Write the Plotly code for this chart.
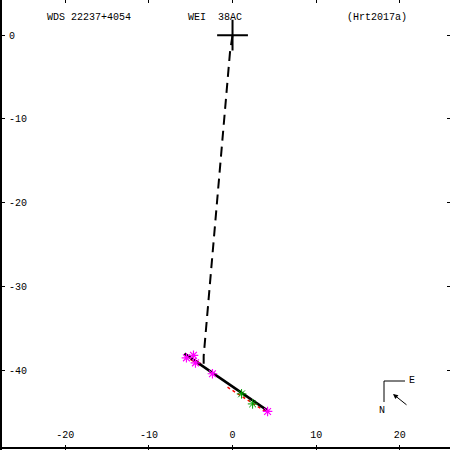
import plotly.graph_objects as go

# Data
orbit_x = [-5.75, 4.19]
orbit_y = [-38.0, -44.8]

dash_x = [0.0, -0.3, -3.45, -3.45]
dash_y = [0.0, -2.0, -38.3, -39.6]

meas_x = [-4.67, -5.51, -4.43, -2.40, 4.19]
meas_y = [-38.2, -38.5, -39.1, -40.4, -44.9]

red_x = [-5.0, -3.8]
red_y = [-38.6, -39.3]
reddot_x = [-0.6, 4.0]
reddot_y = [-42.0, -44.95]

green_x = [1.08, 2.40]
green_y = [-42.8, -44.0]

primary_x = [0.0]
primary_y = [0.0]

x_ticks = [-20, -10, 0, 10, 20]
x_ticktext = ["-20", "-10", "0", "10", "20"]
y_ticks = [0, -10, -20, -30, -40]
y_ticktext = ["0", "-10", "-20", "-30", "-40"]

title_left = "WDS 22237+4054"
title_mid = "WEI  38AC"
title_right = "(Hrt2017a)"

FONT = dict(family="Liberation Mono, DejaVu Sans Mono, monospace", size=10, color="black")
XR = [-27.8, 26.0]
YR = [-49.5, 4.2]

fig = go.Figure()
fig.add_trace(go.Scatter(x=dash_x, y=dash_y, mode="lines",
                         line=dict(color="black", width=2, dash="10px,6px")))
fig.add_trace(go.Scatter(x=reddot_x, y=reddot_y, mode="lines",
                         line=dict(color="red", width=1.5, dash="dot")))
fig.add_trace(go.Scatter(x=red_x, y=red_y, mode="lines",
                         line=dict(color="red", width=3)))
fig.add_trace(go.Scatter(x=orbit_x, y=orbit_y, mode="lines",
                         line=dict(color="black", width=2.5)))
fig.add_trace(go.Scatter(x=green_x, y=green_y, mode="markers",
                         marker=dict(symbol="asterisk-open", size=8, color="#00a000",
                                     line=dict(color="#00a000", width=1))))
fig.add_trace(go.Scatter(x=meas_x, y=meas_y, mode="markers",
                         marker=dict(symbol="asterisk-open", size=8, color="magenta",
                                     line=dict(color="magenta", width=1.2))))
fig.add_trace(go.Scatter(x=primary_x, y=primary_y, mode="markers",
                         marker=dict(symbol="cross-thin-open", size=22, color="black",
                                     line=dict(color="black", width=2))))
# invisible trace for mirrored axes
fig.add_trace(go.Scatter(x=[0], y=[0], xaxis="x2", yaxis="y2", mode="markers",
                         marker=dict(opacity=0), hoverinfo="skip"))

axis_common = dict(ticks="inside", tickcolor="black", tickwidth=1,
                   showgrid=False, zeroline=False, tickfont=FONT, automargin=False)
fig.update_layout(
    template="none",
    width=450, height=450,
    margin=dict(l=0, r=0, t=0, b=0, autoexpand=False),
    paper_bgcolor="white", plot_bgcolor="white",
    showlegend=False,
    xaxis=dict(range=XR, tickvals=x_ticks, ticktext=x_ticktext, ticklen=5, showline=False,
               ticklabelposition="inside", ticklabelstandoff=4, **axis_common),
    yaxis=dict(range=YR, tickvals=y_ticks, ticktext=y_ticktext, ticklen=5, showline=False,
               ticklabelposition="inside", ticklabelstandoff=3, **axis_common),
    xaxis2=dict(range=XR, tickvals=x_ticks, ticklen=3, overlaying="x", side="top",
                showline=False, showticklabels=False, **axis_common),
    yaxis2=dict(range=YR, tickvals=y_ticks, ticklen=3, overlaying="y", side="right",
                showline=False, showticklabels=False, **axis_common),
)

# frame lines (left and bottom)
fig.add_shape(type="line", xref="paper", yref="paper", x0=1 / 450, x1=1 / 450, y0=0, y1=1,
              line=dict(color="black", width=2))
fig.add_shape(type="line", xref="paper", yref="paper", x0=0, x1=1, y0=2 / 450, y1=2 / 450,
              line=dict(color="black", width=2))

for txt, px in [(title_left, 45), (title_mid, 186), (title_right, 345)]:
    fig.add_annotation(text=txt, xref="paper", yref="paper", x=px / 450, y=1 - 17 / 450,
                       xanchor="left", yanchor="middle", showarrow=False, font=FONT)

# compass
def P(px, py):
    return px / 450, 1 - py / 450

x0, y0 = P(384, 381)
x1, _ = P(405, 381)
_, y1 = P(384, 402)
fig.add_shape(type="line", xref="paper", yref="paper", x0=x0, y0=y0, x1=x1, y1=y0,
              line=dict(color="black", width=1))
fig.add_shape(type="line", xref="paper", yref="paper", x0=x0, y0=y0, x1=x0, y1=y1,
              line=dict(color="black", width=1))
ex, ey = P(412, 380)
fig.add_annotation(text="E", xref="paper", yref="paper", x=ex, y=ey, showarrow=False,
                   font=FONT, xanchor="center", yanchor="middle")
nx, ny = P(382, 410)
fig.add_annotation(text="N", xref="paper", yref="paper", x=nx, y=ny, showarrow=False,
                   font=FONT, xanchor="center", yanchor="middle")
hx, hy = P(393, 394)
fig.add_annotation(x=hx, y=hy, ax=15, ay=12, xref="paper", yref="paper",
                   axref="pixel", ayref="pixel", text="", showarrow=True,
                   arrowhead=2, arrowsize=1, arrowwidth=1, arrowcolor="black")

fig.write_html("out.html", config={"displayModeBar": False},
               post_script="document.body.style.margin='0';")
